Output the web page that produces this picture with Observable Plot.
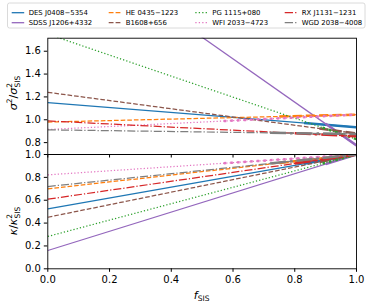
<!DOCTYPE html>
<html><head><meta charset="utf-8">
<script src="https://cdn.jsdelivr.net/npm/d3@7"></script>
<script src="https://cdn.jsdelivr.net/npm/@observablehq/plot@0.6"></script>
<style>
body{margin:0;background:#fff;}
#chart{position:relative;width:373px;height:306px;font-family:"DejaVu Sans",sans-serif;}
#chart svg{position:absolute;left:0;overflow:visible;}
</style></head><body><div id="chart"></div>
<script>
const lenses = ["DES J0408\u22125354","SDSS J1206+4332","HE 0435\u22121223","B1608+656","PG 1115+080","WFI 2033\u22124723","RX J1131\u22121231","WGD 2038\u22124008"];
const colors = ["#1f77b4","#9467bd","#ff7f0e","#8c564b","#2ca02c","#e377c2","#d62728","#7f7f7f"];
const lineStyles = ["solid","solid","dashed","dashed","dotted","dotted","dashdot","dashdot"];
const fEnds = [0, 1];
const sigmaAt0 = [1.15, 2.67, 0.98, 1.24, 1.75, 0.915, 0.99, 0.912];
const sigmaAt1 = [0.935, 0.775, 1.045, 0.88, 0.83, 1.045, 0.855, 0.875];
const kappaAt0 = [0.525, 0.16, 0.70, 0.451, 0.283, 0.822, 0.609, 0.72];
const kappaAt1 = [1, 1, 1, 1, 1, 1, 1, 1];
const fAllowedLow = [0.83, 0.9, 0.75, 0.88, 0.89, 0.57, 0.8, 0.72];
const fTicks = [0, 0.2, 0.4, 0.6, 0.8, 1.0];
const sigmaTicks = [0.8, 1.0, 1.2, 1.4, 1.6];
const kappaTicks = [0, 0.2, 0.4, 0.6, 0.8, 1.0];

function dash(style, w) {
  if (style === "dashed") return [3.7*w, 1.6*w].join(",");
  if (style === "dotted") return [1*w, 1.65*w].join(",");
  if (style === "dashdot") return [6.4*w, 1.6*w, 1*w, 1.6*w].join(",");
  return null;
}

function series(a0, a1) {
  return lenses.map((name, i) => ({
    name, i,
    full: [{f: fEnds[0], v: a0[i]}, {f: fEnds[1], v: a1[i]}],
    thick: [{f: fAllowedLow[i], v: a0[i] + (a1[i]-a0[i]) * fAllowedLow[i]}, {f: fEnds[1], v: a1[i]}]
  }));
}

function lineMarks(a0, a1) {
  const marks = [];
  for (const s of series(a0, a1)) {
    const st = lineStyles[s.i];
    marks.push(Plot.line(s.full, {x: "f", y: "v", stroke: colors[s.i], strokeWidth: 1.25, strokeDasharray: dash(st, 1.25), clip: true, strokeLinecap: "butt"}));
    marks.push(Plot.line(s.thick, {x: "f", y: "v", stroke: colors[s.i], strokeWidth: 2.5, strokeDasharray: dash(st, 2.5), clip: true, strokeLinecap: "butt"}));
  }
  return marks;
}

const common = {
  width: 373, marginLeft: 47.3, marginRight: 17,
  style: {background: "transparent", fontFamily: "DejaVu Sans", fontSize: "10px", color: "#000", overflow: "visible"}
};

const topPlot = Plot.plot({
  ...common, height: 158, marginTop: 37.7, marginBottom: 4,
  x: {domain: [0, 1], ticks: fTicks, tickSize: 3.5, tickFormat: () => "", label: null},
  y: {domain: [0.696, 1.714], ticks: sigmaTicks, tickSize: 3.5, tickPadding: 3.5, tickFormat: d3.format(".1f"), label: null},
  marks: [...lineMarks(sigmaAt0, sigmaAt1), Plot.frame({stroke: "#000", strokeWidth: 0.9})]
});
topPlot.style.top = "0px";

const botPlot = Plot.plot({
  ...common, height: 156, marginTop: 4, marginBottom: 37.7,
  x: {domain: [0, 1], ticks: fTicks, tickSize: 3.5, tickPadding: 3.5, tickFormat: d3.format(".1f"), label: null},
  y: {domain: [0, 1], ticks: kappaTicks, tickSize: 3.5, tickPadding: 3.5, tickFormat: d3.format(".1f"), label: null},
  marks: [...lineMarks(kappaAt0, kappaAt1), Plot.frame({stroke: "#000", strokeWidth: 0.9})]
});
botPlot.style.top = "150px";

const chart = document.getElementById("chart");
chart.appendChild(topPlot);
chart.appendChild(botPlot);

// axis labels with math-like sub/superscripts
function mathLabel(svg, x, y, rotate, parts, size) {
  const t = d3.select(svg).append("text")
    .attr("transform", `translate(${x},${y})` + (rotate ? " rotate(-90)" : ""))
    .attr("text-anchor", "middle").attr("font-family", "DejaVu Sans").attr("font-size", size).attr("fill", "#000");
  for (const p of parts) {
    const ts = t.append("tspan").text(p.t);
    if (p.dy) ts.attr("dy", p.dy);
    if (p.dx) ts.attr("dx", p.dx);
    if (p.size) ts.attr("font-size", p.size);
    if (p.italic) ts.attr("font-style", "italic");
  }
}
mathLabel(topPlot, 16.5, 93, true, [
  {t: "\u03c3", italic: true}, {t: "2", dy: -4.5, size: 7.5}, {t: "/", dy: 4.5}, {t: "\u03c3", italic: true},
  {t: "2", dy: -4.5, size: 7.5}, {t: "SIS", dy: 7.5, dx: -4.5, size: 7.5}
], 11);
mathLabel(botPlot, 16.5, 71, true, [
  {t: "\u03ba", italic: true}, {t: "/"}, {t: "\u03ba", italic: true},
  {t: "2", dy: -4.5, size: 7.5}, {t: "SIS", dy: 7.5, dx: -4.5, size: 7.5}
], 11);
mathLabel(botPlot, 201.6, 149, false, [
  {t: "f", italic: true}, {t: "SIS", dy: 2, size: 7.5}
], 11);

// legend
const lg = d3.select(topPlot).append("g").attr("text-anchor", "start");
lg.append("rect").attr("x", 7.5).attr("y", 3).attr("width", 357.5).attr("height", 25).attr("rx", 2)
  .attr("fill", "#fff").attr("fill-opacity", 0.8).attr("stroke", "#d0d0d0").attr("stroke-width", 0.8);
const textX = [28.7, 125.7, 212.3, 301.7];
const rowY = [12.7, 22.7];
lenses.forEach((name, i) => {
  const col = Math.floor(i / 2), row = i % 2;
  const x0 = textX[col] - 17, y = rowY[row];
  lg.append("line").attr("x1", x0).attr("x2", x0 + 12.5).attr("y1", y).attr("y2", y)
    .attr("stroke", colors[i]).attr("stroke-width", 1.3).attr("stroke-dasharray", dash(lineStyles[i], 1.3));
  lg.append("text").attr("x", textX[col]).attr("y", y).attr("dy", "0.35em").attr("text-anchor", "start")
    .attr("font-family", "DejaVu Sans").attr("font-size", 6.9).attr("fill", "#000").text(name);
});
</script></body></html>
